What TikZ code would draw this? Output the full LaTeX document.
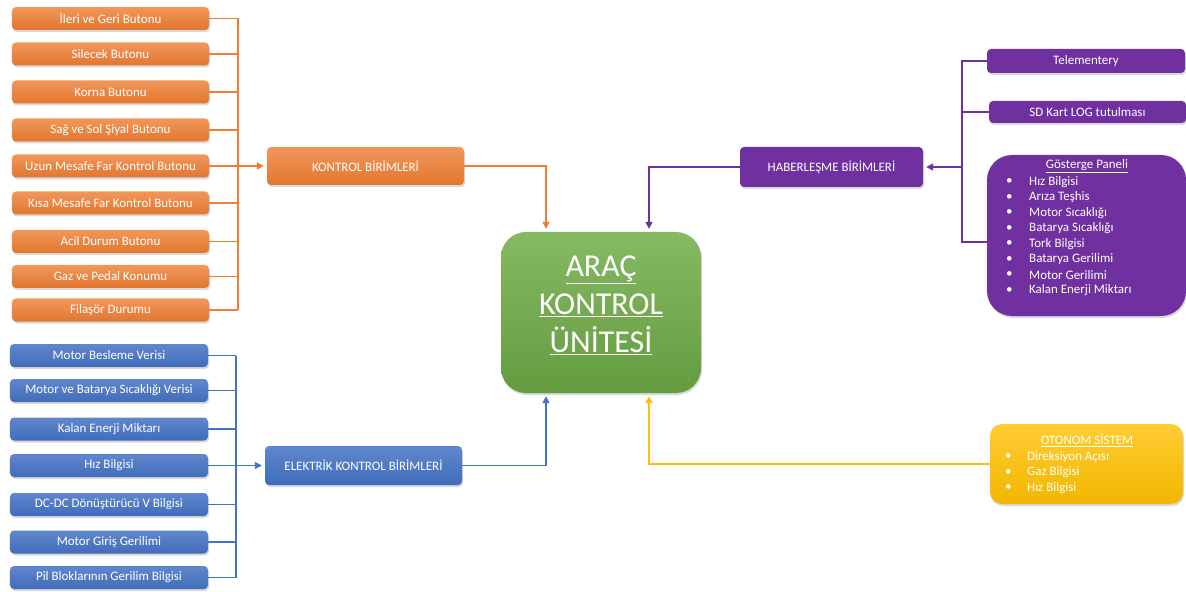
\documentclass[tikz,border=0pt]{standalone}
\usepackage{fontspec}
\setmainfont{Carlito}
\usetikzlibrary{shadows,arrows.meta}
\definecolor{turuncu}{HTML}{ED7D31}
\definecolor{mavi}{HTML}{4472C4}
\definecolor{mor}{HTML}{7030A0}
\definecolor{yesil}{HTML}{70AD47}
\definecolor{sari}{HTML}{FFC000}
\newcommand{\kutuyukseklik}{23bp}
\newcommand{\kucukyazi}{\fontsize{13}{15}\selectfont}
\tikzset{
  birim/.style={rounded corners=4bp, minimum height=\kutuyukseklik, text=white,
    font=\kucukyazi, inner sep=2bp,
    drop shadow={opacity=0.3, shadow xshift=1bp, shadow yshift=-2bp}},
  turuncukutu/.style={birim, top color=turuncu!80!white, bottom color=turuncu!95!black},
  mavikutu/.style={birim, top color=mavi!85!white, bottom color=mavi!95!black},
  morkutu/.style={birim, fill=mor},
  hat/.style={line width=1.4bp, line join=miter},
  ok/.style={-{Triangle[length=7bp,width=7bp]}, shorten >=3bp},
  madde/.style={text=white, font=\kucukyazi, anchor=west, inner sep=0pt}
}

\begin{document}
\begin{tikzpicture}[x=1bp,y=-1bp]
\useasboundingbox (0,0) rectangle (1186,592);

% bus coordinates
\coordinate (tbus) at (238,0);
\coordinate (mbus) at (236,0);
\coordinate (hbus) at (962,242);

% control inputs (orange)
\foreach \y/\metin [count=\i] in {18.5/{İleri ve Geri Butonu}, 54/{Silecek Butonu},
    92/{Korna Butonu}, 130/{Sağ ve Sol Şiyal Butonu}, 166/{Uzun Mesafe Far Kontrol Butonu},
    203/{Kısa Mesafe Far Kontrol Butonu}, 241.5/{Acil Durum Butonu},
    276.5/{Gaz ve Pedal Konumu}, 310/{Filaşör Durumu}}
  \node[turuncukutu, minimum width=197bp] (t\i) at (110.5,\y) {\metin};

% electric inputs (blue)
\foreach \y/\metin [count=\i] in {355.5/{Motor Besleme Verisi},
    390.5/{Motor ve Batarya Sıcaklığı Verisi}, 429/{Kalan Enerji Miktarı},
    465.5/{Hız Bilgisi}, 504.5/{DC-DC Dönüştürücü V Bilgisi},
    542/{Motor Giriş Gerilimi}, 577.5/{Pil Bloklarının Gerilim Bilgisi}}
  \node[mavikutu, minimum width=198bp] (m\i) at (109,\y) {\metin};

% group boxes
\node[turuncukutu, minimum width=197bp, minimum height=38bp] (kb) at (365.5,166) {KONTROL BİRİMLERİ};
\node[mavikutu, minimum width=197bp, minimum height=39bp] (eb) at (363.5,465.5) {ELEKTRİK KONTROL BİRİMLERİ};
\node[morkutu, minimum width=183bp, minimum height=40bp] (hb) at (831.5,167) {HABERLEŞME BİRİMLERİ};

% main unit
\node[birim, rounded corners=25bp, top color=yesil!85!white, bottom color=yesil!90!black,
  minimum width=200bp, minimum height=161bp] (arac) at (601,312.5) {};
\node[text=white, align=center, font=\fontsize{32}{38}\selectfont] (aracyazi) at (601,305)
  {\underline{ARAÇ}\\\underline{KONTROL}\\\underline{ÜNİTESİ}};

% communication side (purple)
\node[morkutu, minimum width=198bp, minimum height=24bp] (tel) at (1086,61) {Telementery};
\node[morkutu, minimum width=197bp, minimum height=22bp] (sd) at (1087.5,112) {SD Kart LOG tutulması};
\node[morkutu, rounded corners=25bp, minimum width=199bp, minimum height=161bp] (gp) at (1086.5,235.5) {};
\node[madde, anchor=center] (gpbaslik) at (1087,166) {\underline{Gösterge Paneli}};
\foreach \metin [count=\i] in {Hız Bilgisi, Arıza Teşhis, Motor Sıcaklığı, Batarya Sıcaklığı,
    Tork Bilgisi, Batarya Gerilimi, Motor Gerilimi, Kalan Enerji Miktarı} {
  \node[madde] (gpn\i) at (1006,182+15.5*\i-15.5) {•};
  \node[madde] (gp\i) at (1029,182+15.5*\i-15.5) {\metin};
}

% autonomous system (yellow)
\node[birim, rounded corners=12bp, top color=sari!80!white, bottom color=sari!95!black,
  minimum width=193bp, minimum height=80bp] (ot) at (1086.5,464) {};
\node[madde, anchor=center] (otbaslik) at (1087,440) {\underline{OTONOM SİSTEM}};
\foreach \metin [count=\i] in {Direksiyon Açısı, Gaz Bilgisi, Hız Bilgisi} {
  \node[madde] (otn\i) at (1005,457+15.5*\i-15.5) {•};
  \node[madde] (ot\i) at (1027,457+15.5*\i-15.5) {\metin};
}

% orange bus
\begin{scope}[hat, turuncu]
\foreach \i in {1,...,9}
  \draw (t\i.east) -- (t\i.east -| tbus);
\draw (t1.east -| tbus) -- (t9.east -| tbus);
\draw[ok] (kb.west -| tbus) -- (kb.west);
\draw[ok] (kb.east) -| ([xshift=-55bp]arac.north);
\end{scope}

% blue bus
\begin{scope}[hat, mavi]
\foreach \i in {1,...,7}
  \draw (m\i.east) -- (m\i.east -| mbus);
\draw (m1.east -| mbus) -- (m7.east -| mbus);
\draw[ok] (eb.west -| mbus) -- (eb.west);
\draw[ok] (eb.east) -| ([xshift=-55bp]arac.south);
\end{scope}

% purple bus
\begin{scope}[hat, mor]
\draw (tel.west) -| (hbus) -- (hbus -| gp.west);
\draw (sd.west) -- (sd.west -| hbus);
\draw[ok] (hb.east -| hbus) -- (hb.east);
\draw[ok] (hb.west) -| ([xshift=48bp]arac.north);
\end{scope}

% yellow line
\draw[hat, sari, ok] (ot.west) -| ([xshift=48bp]arac.south);

\end{tikzpicture}
\end{document}
